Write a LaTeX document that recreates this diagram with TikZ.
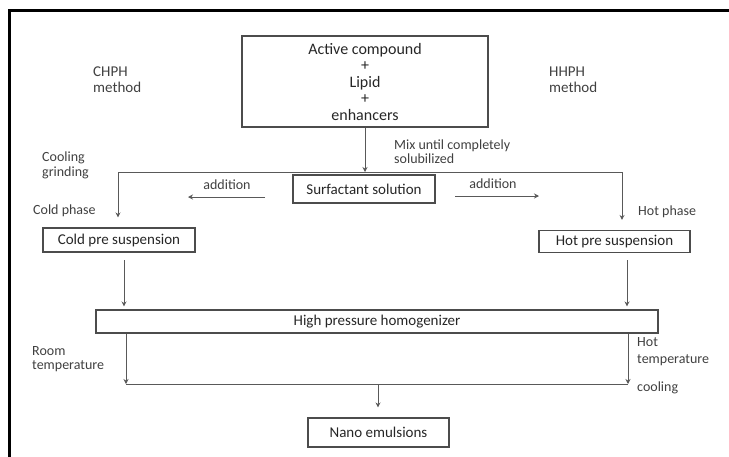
\documentclass[tikz,border=0pt]{standalone}
\usepackage{fontspec}
\setmainfont{Carlito}
\usetikzlibrary{arrows.meta, positioning}
\tikzstyle{process} = [rectangle, draw=black!70, line width=1.1pt, text=black!85, font=\fontsize{15}{16}\selectfont, inner sep=0pt, text centered]
\tikzstyle{lbl} = [align=left, anchor=west, text=black!75, inner sep=0pt]
\tikzstyle{arrow} = [line width=1pt, draw=black!65, -{Stealth[length=5pt, width=5pt]}]
\tikzstyle{line} = [line width=1pt, draw=black!65]

\begin{document}
\begin{tikzpicture}[x=1pt, y=-1pt]
\useasboundingbox (0,0) rectangle (729,456);

% Frame
\draw [line width=3pt] (9,458) -- (9,10) -- (731,10);

% Boxes
\node (top) [process, align=center, minimum width=246pt, minimum height=91pt, font=\fontsize{16}{16.5}\selectfont] at (365,81.5) {Active compound\\+\\Lipid\\+\\enhancers};
\node (surf) [process, minimum width=142pt, minimum height=28pt] at (364,189) {Surfactant solution};
\node (cold) [process, minimum width=152pt, minimum height=24pt] at (119,240) {Cold pre suspension};
\node (hot) [process, minimum width=151pt, minimum height=22pt] at (614.5,241.5) {Hot pre suspension};
\node (hph) [process, minimum width=562pt, minimum height=23pt] at (377,321.5) {High pressure homogenizer};
\node (nano) [process, minimum width=141pt, minimum height=29pt] at (378.5,432.5) {Nano emulsions};

% Labels
\node (chph) [lbl, font=\fontsize{15}{16}\selectfont] at (93,80) {CHPH\\method};
\node (hhph) [lbl, font=\fontsize{15}{16}\selectfont] at (549,80) {HHPH\\method};
\node (mix) [lbl, font=\fontsize{14}{14}\selectfont] at (394,152) {Mix until completely\\solubilized};
\node (cool) [lbl, font=\fontsize{14}{15}\selectfont] at (42,165.5) {Cooling\\grinding};
\node (coldph) [lbl, font=\fontsize{14}{15}\selectfont] at (33,211) {Cold phase};
\node (hotph) [lbl, font=\fontsize{14}{15}\selectfont] at (638,212) {Hot phase};
\node (add1) [text=black!75, inner sep=0pt, font=\fontsize{14}{15}\selectfont] at (227,185) {addition};
\node (add2) [text=black!75, inner sep=0pt, font=\fontsize{14}{15}\selectfont] at (493,184) {addition};
\node (room) [lbl, font=\fontsize{14}{14}\selectfont] at (32,359) {Room\\temperature};
\node (hottemp) [lbl, font=\fontsize{14}{17}\selectfont] at (637,351.5) {Hot\\temperature};
\node (cooling) [lbl, font=\fontsize{14}{15}\selectfont] at (637,388) {cooling};

% Junction points
\coordinate (split) at (365,172);
\coordinate (lc) at (118,172);
\coordinate (rc) at (622,172);
\coordinate (a1) at (265,197);
\coordinate (a1e) at (188,197);
\coordinate (a2) at (455,196);
\coordinate (a2e) at (539,196);
\coordinate (cout) at (124,260);
\coordinate (hout) at (627,260);
\coordinate (lb) at (126,384);
\coordinate (rb) at (628,384);
\coordinate (mb) at (378,384);

% Arrows
\draw [arrow] (top) -- (split);
\draw [line] (lc) -- (rc);
\draw [arrow, shorten >=10pt] (lc) -- (lc |- cold.north);
\draw [arrow, shorten >=10pt] (rc) -- (rc |- hot.north);
\draw [arrow] (a1) -- (a1e);
\draw [arrow] (a2) -- (a2e);

\draw [arrow, shorten >=3pt] (cout) -- (cout |- hph.north);
\draw [arrow, shorten >=3pt] (hout) -- (hout |- hph.north);

\draw [arrow] (lb |- hph.south) -- (lb);
\draw [arrow] (rb |- hph.south) -- (rb);
\draw [line] (lb) -- (rb);
\draw [arrow, shorten >=10pt] (mb) -- (mb |- nano.north);

\end{tikzpicture}
\end{document}
